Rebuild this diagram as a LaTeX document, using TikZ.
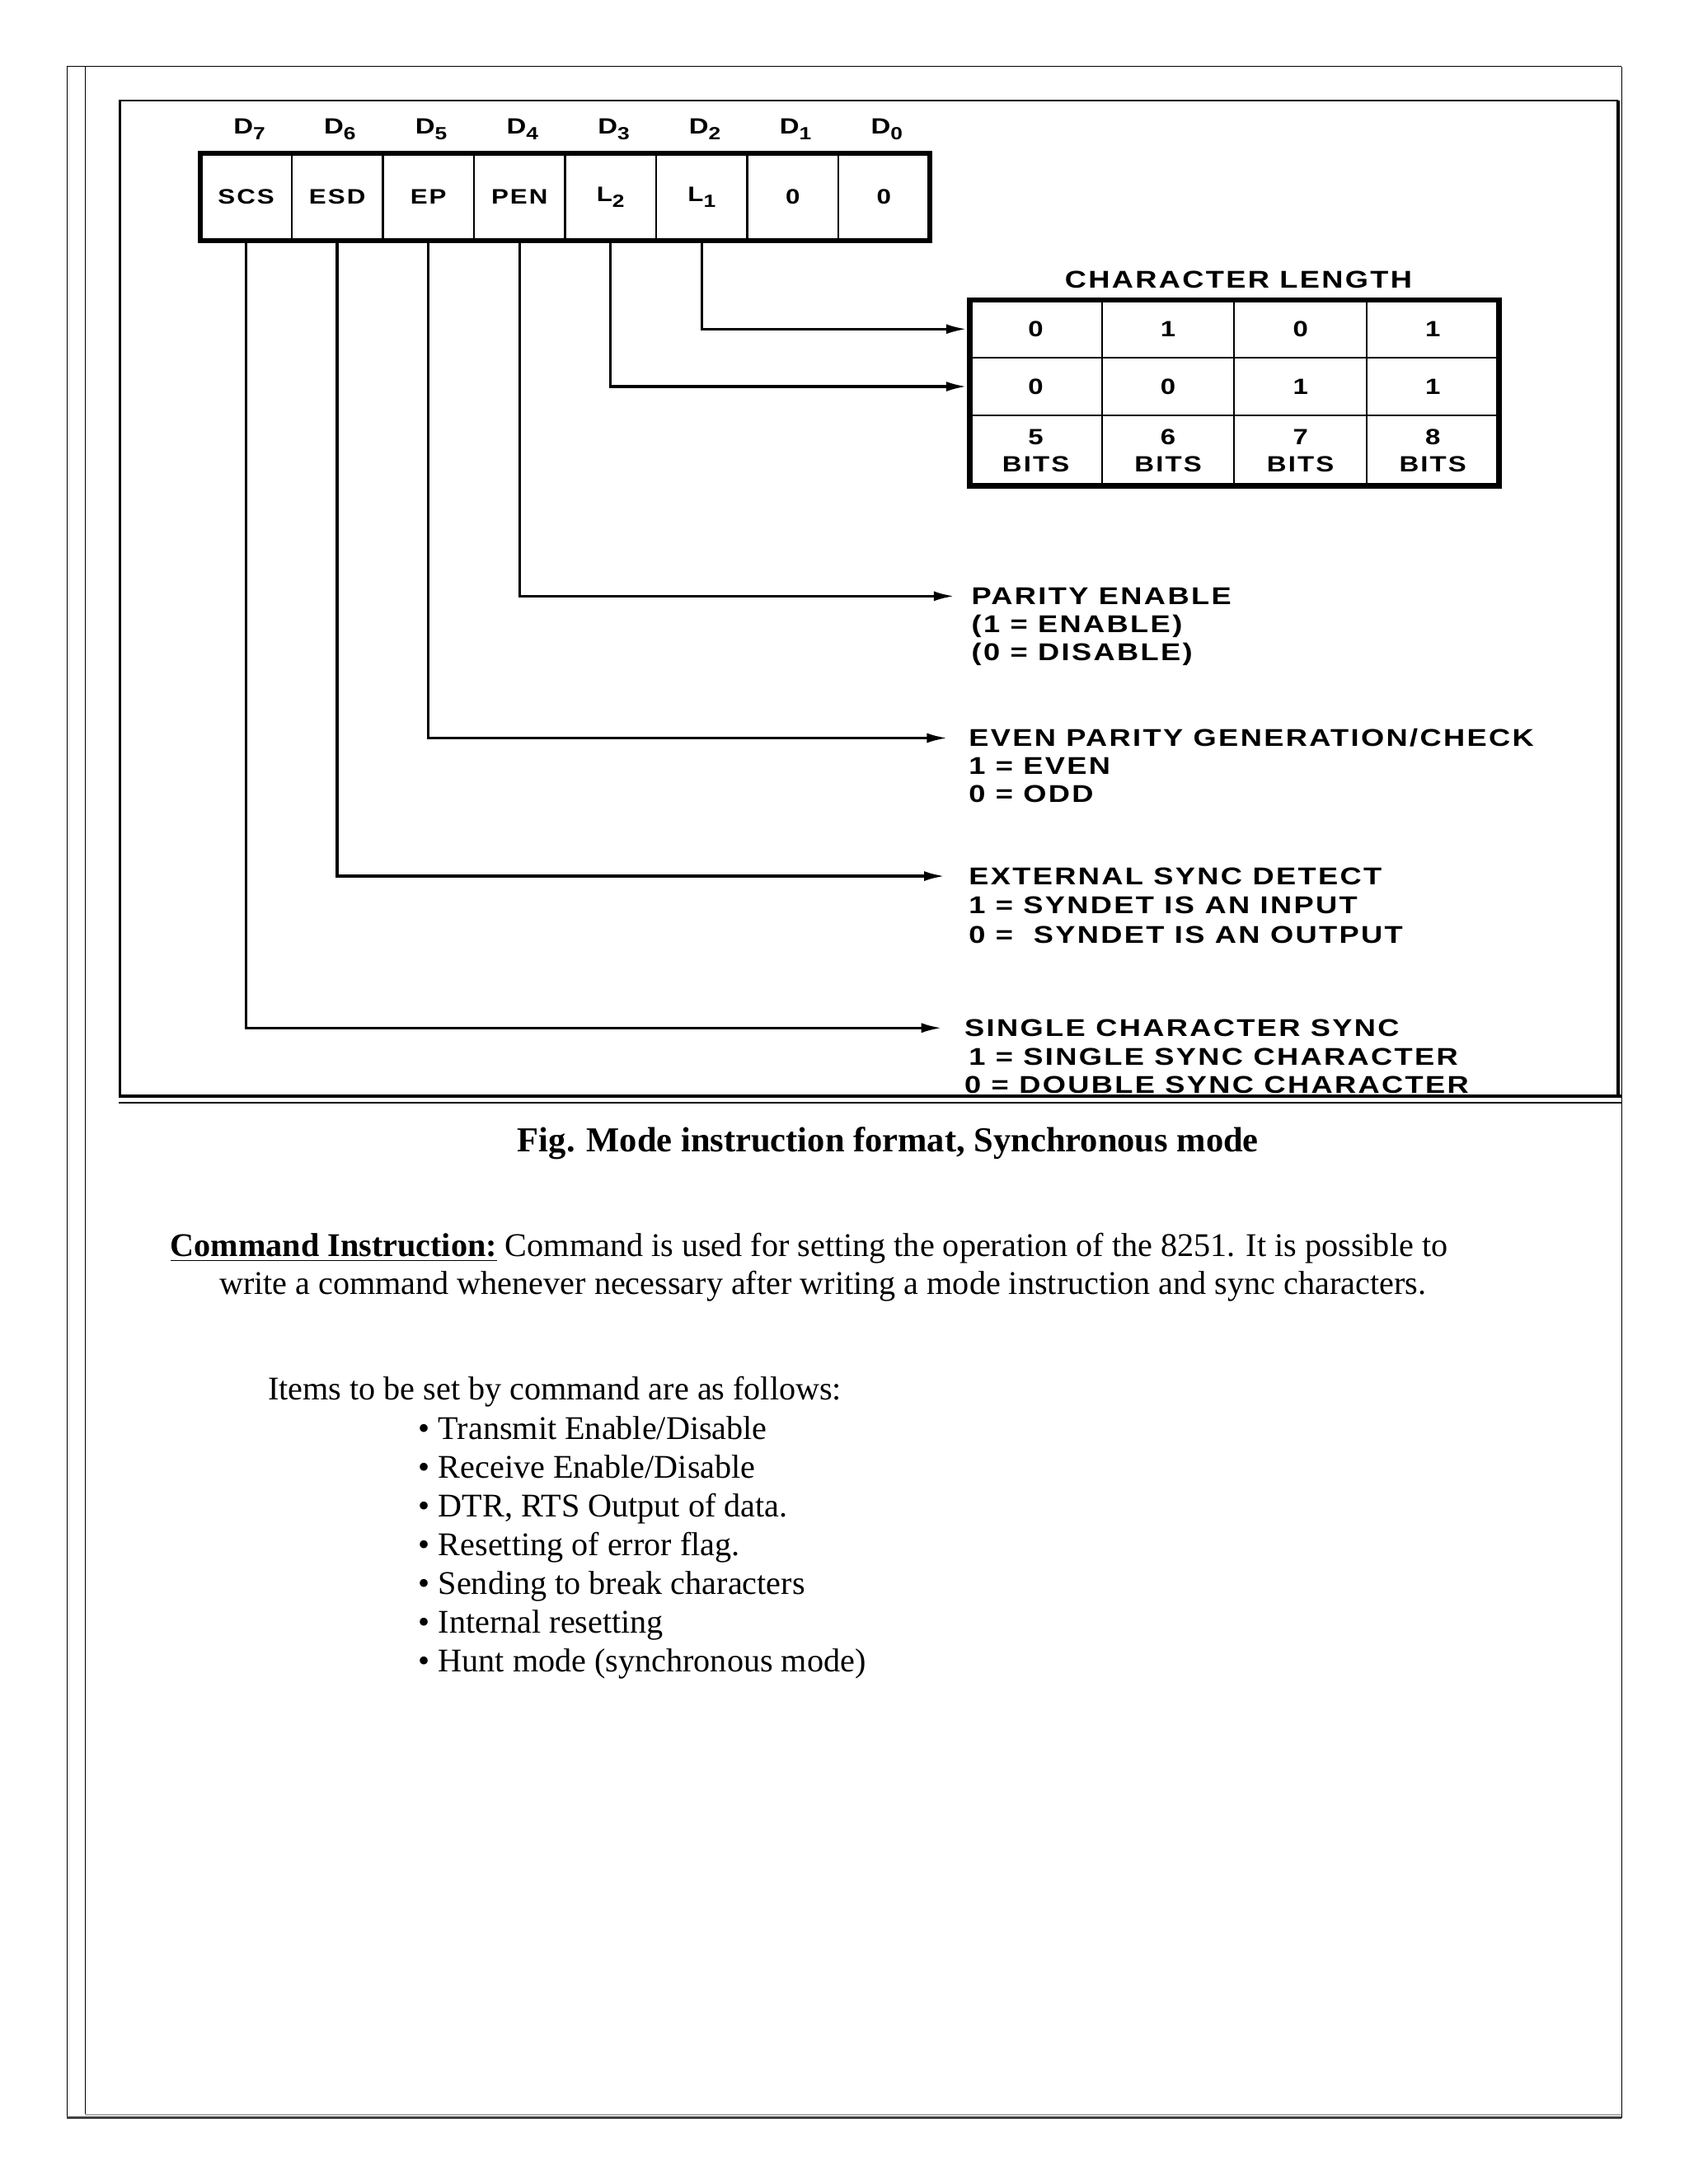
\documentclass[tikz,border=0pt]{standalone}
\usepackage{fontspec}
\setmainfont{Liberation Serif}
\newfontfamily\dsfont[FakeStretch=1.23,LetterSpace=8]{Liberation Sans}
\newcommand{\lowidx}[1]{\raisebox{-2.2pt}{\fontsize{6.4}{7}\selectfont #1}}
\usetikzlibrary{arrows.meta}

\begin{document}
\begin{tikzpicture}[x=0.505pt,y=-0.505pt,
  frame/.style={line width=0.35pt},
  bitcell/.style={draw,line width=0.7pt,minimum width=33pt,minimum height=31.8pt,inner sep=0pt,outer sep=0pt,font=\dsfont\bfseries\fontsize{7.6}{9}\selectfont},
  bitname/.style={anchor=base,inner sep=0pt,font=\dsfont\bfseries\fontsize{8}{9}\selectfont},
  lencell/.style={draw,line width=0.6pt,minimum width=48pt,inner sep=0pt,outer sep=0pt,align=center,font=\dsfont\bfseries\fontsize{8}{9.9}\selectfont},
  dstext/.style={anchor=base west,inner sep=0pt,font=\dsfont\bfseries\fontsize{8.8}{10}\selectfont},
  body/.style={anchor=base west,inner sep=0pt,font=\fontsize{12}{14}\selectfont},
  wire/.style={line width=1pt},
  feed/.style={wire,-{Latex[length=7.5pt,width=3.6pt]}}]
\useasboundingbox (0,0) rectangle (1212,1568);
\draw[frame] (48,47.7) -- (1164,47.7);
\draw[frame] (48,47.7) -- (48,1520.5);
\draw[frame] (61,47.7) -- (61,1518);
\draw[frame] (1164,47.7) -- (1164,1520.5);
\draw[line width=0.6pt,gray!60] (61,1518) -- (1164,1518);
\draw[line width=0.8pt,black!75] (48,1520.5) -- (1164,1520.5);
\draw[line width=0.7pt] (86,787) -- (86,72) -- (1161.5,72);
\draw[line width=1.2pt] (1161.5,72) -- (1161.5,787);
\draw[line width=1pt] (85,787) -- (1164,787);
\draw[line width=0.5pt] (85,791.5) -- (1164,791.5);
\node[bitcell] (scs) at (176.7,141.5) {SCS};
\node[bitcell] (esd) at (242.1,141.5) {ESD};
\node[bitcell] (ep) at (307.5,141.5) {EP};
\node[bitcell] (pen) at (372.9,141.5) {PEN};
\node[bitcell] (ltwo) at (438.3,141.5) {L\lowidx{2}};
\node[bitcell] (lone) at (503.7,141.5) {L\lowidx{1}};
\node[bitcell] (bitone) at (569.1,141.5) {0};
\node[bitcell] (bitzero) at (634.5,141.5) {0};
\draw[line width=1.8pt] (scs.north west) rectangle (bitzero.south east);
\node[bitname] (dseven) at (179,96) {D\lowidx{7}};
\node[bitname] (dsix) at (244,96) {D\lowidx{6}};
\node[bitname] (dfive) at (309.5,96) {D\lowidx{5}};
\node[bitname] (dfour) at (375,96) {D\lowidx{4}};
\node[bitname] (dthree) at (440.5,96) {D\lowidx{3}};
\node[bitname] (dtwo) at (506,96) {D\lowidx{2}};
\node[bitname] (done) at (571,96) {D\lowidx{1}};
\node[bitname] (dzero) at (636.5,96) {D\lowidx{0}};
\node[dstext,anchor=base] (lentitle) at (889,207) {CHARACTER LENGTH};
\node[lencell,minimum height=21pt] (len11) at (743.5,236.25) {0};
\node[lencell,minimum height=21pt] (len12) at (838.5,236.25) {1};
\node[lencell,minimum height=21pt] (len13) at (933.5,236.25) {0};
\node[lencell,minimum height=21pt] (len14) at (1028.5,236.25) {1};
\node[lencell,minimum height=20.7pt] (len21) at (743.5,277.5) {0};
\node[lencell,minimum height=20.7pt] (len22) at (838.5,277.5) {0};
\node[lencell,minimum height=20.7pt] (len23) at (933.5,277.5) {1};
\node[lencell,minimum height=20.7pt] (len24) at (1028.5,277.5) {1};
\node[lencell,minimum height=25.75pt] (len31) at (743.5,323.5) {5\\BITS};
\node[lencell,minimum height=25.75pt] (len32) at (838.5,323.5) {6\\BITS};
\node[lencell,minimum height=25.75pt] (len33) at (933.5,323.5) {7\\BITS};
\node[lencell,minimum height=25.75pt] (len34) at (1028.5,323.5) {8\\BITS};
\draw[line width=2pt] (len11.north west) rectangle (len34.south east);
\node[dstext] (parhead) at (697,434) {PARITY ENABLE};
\node[dstext] (parone) at (697,454) {(1 = ENABLE)};
\node[dstext] (parzero) at (697,474) {(0 = DISABLE)};
\node[dstext] (evenhead) at (695,536) {EVEN PARITY GENERATION/CHECK};
\node[dstext] (evenone) at (695,556) {1 = EVEN};
\node[dstext] (evenzero) at (695,576) {0 = ODD};
\node[dstext] (exthead) at (695,635) {EXTERNAL SYNC DETECT};
\node[dstext] (extone) at (695,656) {1 = SYNDET IS AN INPUT};
\node[dstext] (extzero) at (695,677) {0 =\ \ SYNDET IS AN OUTPUT};
\node[dstext] (scshead) at (692,744) {SINGLE CHARACTER SYNC};
\node[dstext] (scsone) at (695,765) {1 = SINGLE SYNC CHARACTER};
\node[dstext] (scszero) at (692,785) {0 = DOUBLE SYNC CHARACTER};
\draw[feed,shorten >=1pt] (lone.south) |- (len11.west);
\draw[feed,shorten >=1pt] (ltwo.south) |- (len21.west);
\draw[feed,shorten >=6pt] (pen.south) |- (parhead.west);
\draw[feed,shorten >=7.5pt] (ep.south) |- (evenhead.west);
\draw[feed,shorten >=8.5pt] (esd.south) |- (exthead.west);
\draw[feed,shorten >=8pt] (scs.south) |- (scshead.west);
\node[body,font=\bfseries\fontsize{12.7}{14}\selectfont,anchor=base] (caption) at (637.5,827) {Fig. Mode instruction format, Synchronous mode};
\node[body] (cmdone) at (122,902) {\underline{\textbf{Command Instruction:}} Command is used for setting the operation of the 8251. It is possible to};
\node[body] (cmdtwo) at (157,929) {write a command whenever necessary after writing a mode instruction and sync characters.};
\node[body] (items) at (192,1005) {Items to be set by command are as follows:};
\node[body] (itone) at (300,1033.5) {\textbullet\ Transmit Enable/Disable};
\node[body] (ittwo) at (300,1061.3) {\textbullet\ Receive Enable/Disable};
\node[body] (itthree) at (300,1089.1) {\textbullet\ DTR, RTS Output of data.};
\node[body] (itfour) at (300,1116.9) {\textbullet\ Resetting of error flag.};
\node[body] (itfive) at (300,1144.7) {\textbullet\ Sending to break characters};
\node[body] (itsix) at (300,1172.5) {\textbullet\ Internal resetting};
\node[body] (itseven) at (300,1200.3) {\textbullet\ Hunt mode (synchronous mode)};
\end{tikzpicture}
\end{document}
